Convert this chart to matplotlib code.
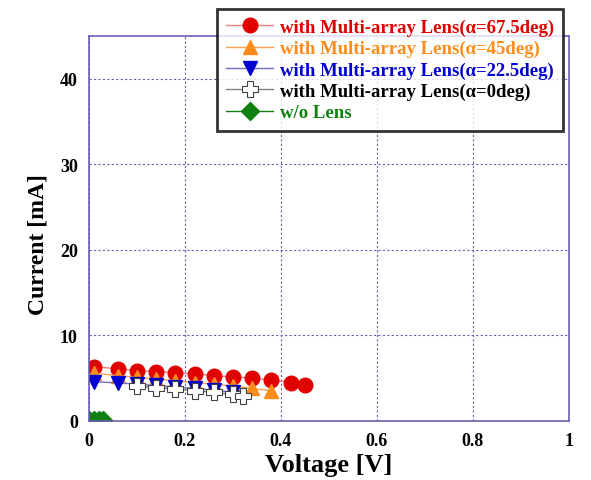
import numpy as np
import matplotlib.pyplot as plt
from matplotlib.ticker import FuncFormatter

#   Data
v_red = [0.01, 0.06, 0.10, 0.14, 0.18, 0.22, 0.26, 0.30, 0.34, 0.38, 0.42, 0.45]
i_red = [6.35, 6.1, 5.9, 5.77, 5.65, 5.5, 5.3, 5.15, 5.0, 4.8, 4.5, 4.25]

v_orange = [0.01, 0.06, 0.10, 0.14, 0.18, 0.22, 0.26, 0.30, 0.34, 0.38]
i_orange = [5.6, 5.3, 5.1, 4.9, 4.7, 4.5, 4.3, 4.1, 3.8, 3.55]

v_blue = [0.01, 0.06, 0.10, 0.14, 0.18, 0.22, 0.26, 0.30]
i_blue = [4.6, 4.45, 4.3, 4.15, 4.0, 3.8, 3.6, 3.35]

v_white = [0.10, 0.14, 0.18, 0.22, 0.26, 0.30, 0.32]
i_white = [4.1, 3.9, 3.75, 3.55, 3.35, 3.1, 2.9]

v_green = [0.0, 0.01, 0.02, 0.03]
i_green = [0.1, 0.1, 0.1, 0.1]

labels = ['with Multi-array Lens(\u03b1=67.5deg)',
          'with Multi-array Lens(\u03b1=45deg)',
          'with Multi-array Lens(\u03b1=22.5deg)',
          'with Multi-array Lens(\u03b1=0deg)',
          'w/o Lens']

plt.rcParams['font.family'] = ['Liberation Serif', 'DejaVu Serif']
plt.rcParams['font.weight'] = 'bold'

frame = '#6a5fb5'

fig = plt.figure(figsize=(5.91, 4.81), dpi=100)
ax = fig.add_axes([89/591, 59/481, 480/591, 385/481])

ax.plot(v_red, i_red, '-o', color='#f08080', lw=1, mfc='#e00000', mec='#e00000', ms=10.5, label=labels[0])
ax.plot(v_orange, i_orange, '-^', color='#f7a050', lw=1, mfc='#ff8c1a', mec='#ff8c1a', ms=10, label=labels[1])
ax.plot(v_blue, i_blue, '-v', color='#7070c0', lw=1, mfc='#0000d0', mec='#0000d0', ms=10, label=labels[2])
ax.plot(v_white, i_white, '-P', color='#808080', lw=1, mfc='white', mec='#404040', mew=0.8, ms=12, label=labels[3])
ax.plot(v_green, i_green, '-D', color='#108010', lw=1, mfc='#108010', mec='#108010', ms=9, label=labels[4])

ax.set_xlim(0, 1)
ax.set_ylim(0, 45)
ax.set_xticks([0, 0.2, 0.4, 0.6, 0.8, 1])
ax.set_yticks([0, 10, 20, 30, 40])
ax.xaxis.set_major_formatter(FuncFormatter(lambda x, p: '%g' % x))
ax.yaxis.set_major_formatter(FuncFormatter(lambda x, p: '%g' % x))
ax.tick_params(length=0, labelsize=13, pad=8)
for t in ax.get_xticklabels() + ax.get_yticklabels():
    t.set_fontweight('bold')
for s in ax.spines.values():
    s.set_color(frame)
    s.set_linewidth(1.2)
ax.grid(True, color=frame, linestyle=(0, (2, 2)), linewidth=0.8)

ax.set_xlabel('Voltage [V]', fontsize=19, fontweight='bold', labelpad=3)
ax.set_ylabel('Current [mA]', fontsize=17, fontweight='bold')
ax.yaxis.set_label_coords(-0.085, 0.46)

leg = fig.legend(loc='upper left', bbox_to_anchor=(217/591, 1 - 10/481), fontsize=13.5,
                 frameon=True, fancybox=False, handlelength=2.5, handletextpad=0.35,
                 labelspacing=0.22, borderpad=0.5, borderaxespad=0)
leg.get_frame().set_edgecolor('black')
leg.get_frame().set_linewidth(2)
tcolors = ['#e00000', '#ff8c1a', '#0000d0', 'black', '#108010']
for t, c in zip(leg.get_texts(), tcolors):
    t.set_color(c)
    t.set_fontweight('bold')

fig.savefig('out.png', dpi=100)
